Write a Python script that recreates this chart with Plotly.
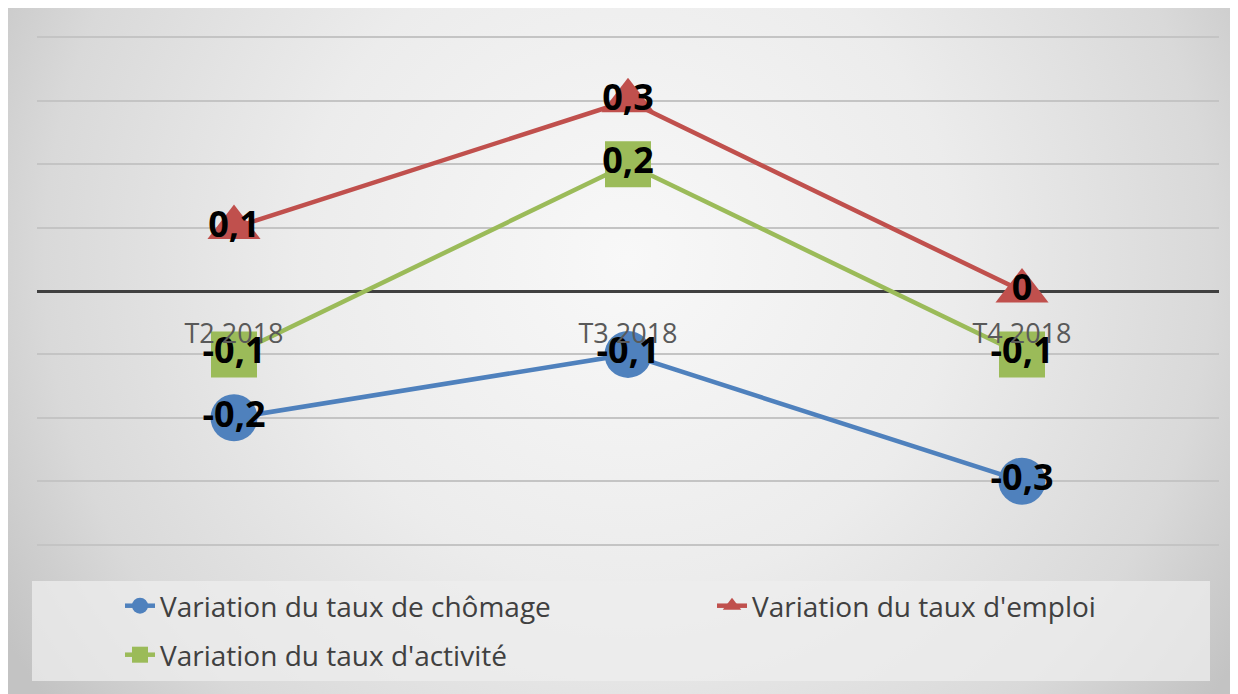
import base64
import plotly.graph_objects as go

# data
trimestres = ['T2 2018', 'T3 2018', 'T4 2018']
var_chomage = [-0.2, -0.1, -0.3]
var_emploi = [0.1, 0.3, 0.0]
var_activite = [-0.1, 0.2, -0.1]

series = [
    ('Variation du taux de chômage', var_chomage, '#4f81bd', 'circle', 47, 'legend'),
    ("Variation du taux d'emploi", var_emploi, '#c0504d', 'triangle-up', 46, 'legend2'),
    ("Variation du taux d'activité", var_activite, '#9bbb59', 'square', 46, 'legend3'),
]


def fr(v):
    return f'{v:g}'.replace('.', ',')


# gradient background (radial grey, like the Office chart style)
svg = '''<svg xmlns="http://www.w3.org/2000/svg" width="1238" height="694" viewBox="0 0 1238 694">
<defs><radialGradient id="g" gradientUnits="userSpaceOnUse" cx="620" cy="250" r="730">
<stop offset="0" stop-color="#f8f8f8"/><stop offset="0.45" stop-color="#ececec"/>
<stop offset="0.8" stop-color="#d9d9d9"/><stop offset="1" stop-color="#c3c3c3"/>
</radialGradient></defs><rect width="1238" height="694" fill="url(#g)"/></svg>'''
bg_src = 'data:image/svg+xml;base64,' + base64.b64encode(svg.encode()).decode()

fig = go.Figure()

for name, vals, color, symbol, size, leg in series:
    fig.add_trace(go.Scatter(
        x=trimestres, y=vals, name=name, legend=leg,
        mode='lines+markers',
        line=dict(color=color, width=4.5),
        marker=dict(symbol=symbol, size=size, color=color),
        hoverinfo='skip'
    ))

# data labels on top of everything
for name, vals, color, symbol, size, leg in series:
    fig.add_trace(go.Scatter(
        x=trimestres, y=vals, mode='text', showlegend=False,
        text=[fr(v) for v in vals], textposition='middle center',
        textfont=dict(family='Open Sans', size=36, color='black', weight='bold'),
        hoverinfo='skip'
    ))

W, H = 1238, 694
L, R, T, B = 29, 27, 23, 151
pw = W - L - R
ph = H - T - B


def px_x(x):
    return (x - L) / pw


def px_y(y):
    return (T + ph - y) / ph


fig.add_layout_image(
    source=bg_src, xref='paper', yref='paper',
    x=px_x(0), y=px_y(0), sizex=W / pw, sizey=H / ph,
    xanchor='left', yanchor='top', sizing='stretch', layer='below'
)

# legend box
fig.add_shape(
    type='rect', xref='paper', yref='paper', layer='below',
    x0=px_x(24), x1=px_x(1202), y0=px_y(673), y1=px_y(573),
    fillcolor='rgba(238,238,238,0.75)', line=dict(width=0)
)

legend_font = dict(family='Open Sans', size=28, color='#404040')


def leg(x, y):
    return dict(orientation='h', x=px_x(x), xanchor='left', y=px_y(y), yanchor='middle',
                bgcolor='rgba(0,0,0,0)', font=legend_font)


fig.update_layout(
    width=W, height=H,
    margin=dict(l=L, r=R, t=T, b=B),
    paper_bgcolor='white',
    plot_bgcolor='rgba(0,0,0,0)',
    showlegend=True,
    xaxis=dict(
        range=[-0.5, 2.5], anchor='free', position=0.5,
        showgrid=False, showline=False, zeroline=False, ticks='',
        ticklabelstandoff=24,
        tickfont=dict(family='Open Sans', size=27, color='#595959')
    ),
    yaxis=dict(
        range=[-0.41, 0.41], dtick=0.1, showticklabels=False,
        showgrid=True, gridcolor='#c4c4c4', gridwidth=1.5,
        zeroline=True, zerolinecolor='#404040', zerolinewidth=2.5
    ),
    legend=leg(112, 598),
    legend2=leg(704, 598),
    legend3=leg(112, 647),
)

fig.write_html('out.html')
